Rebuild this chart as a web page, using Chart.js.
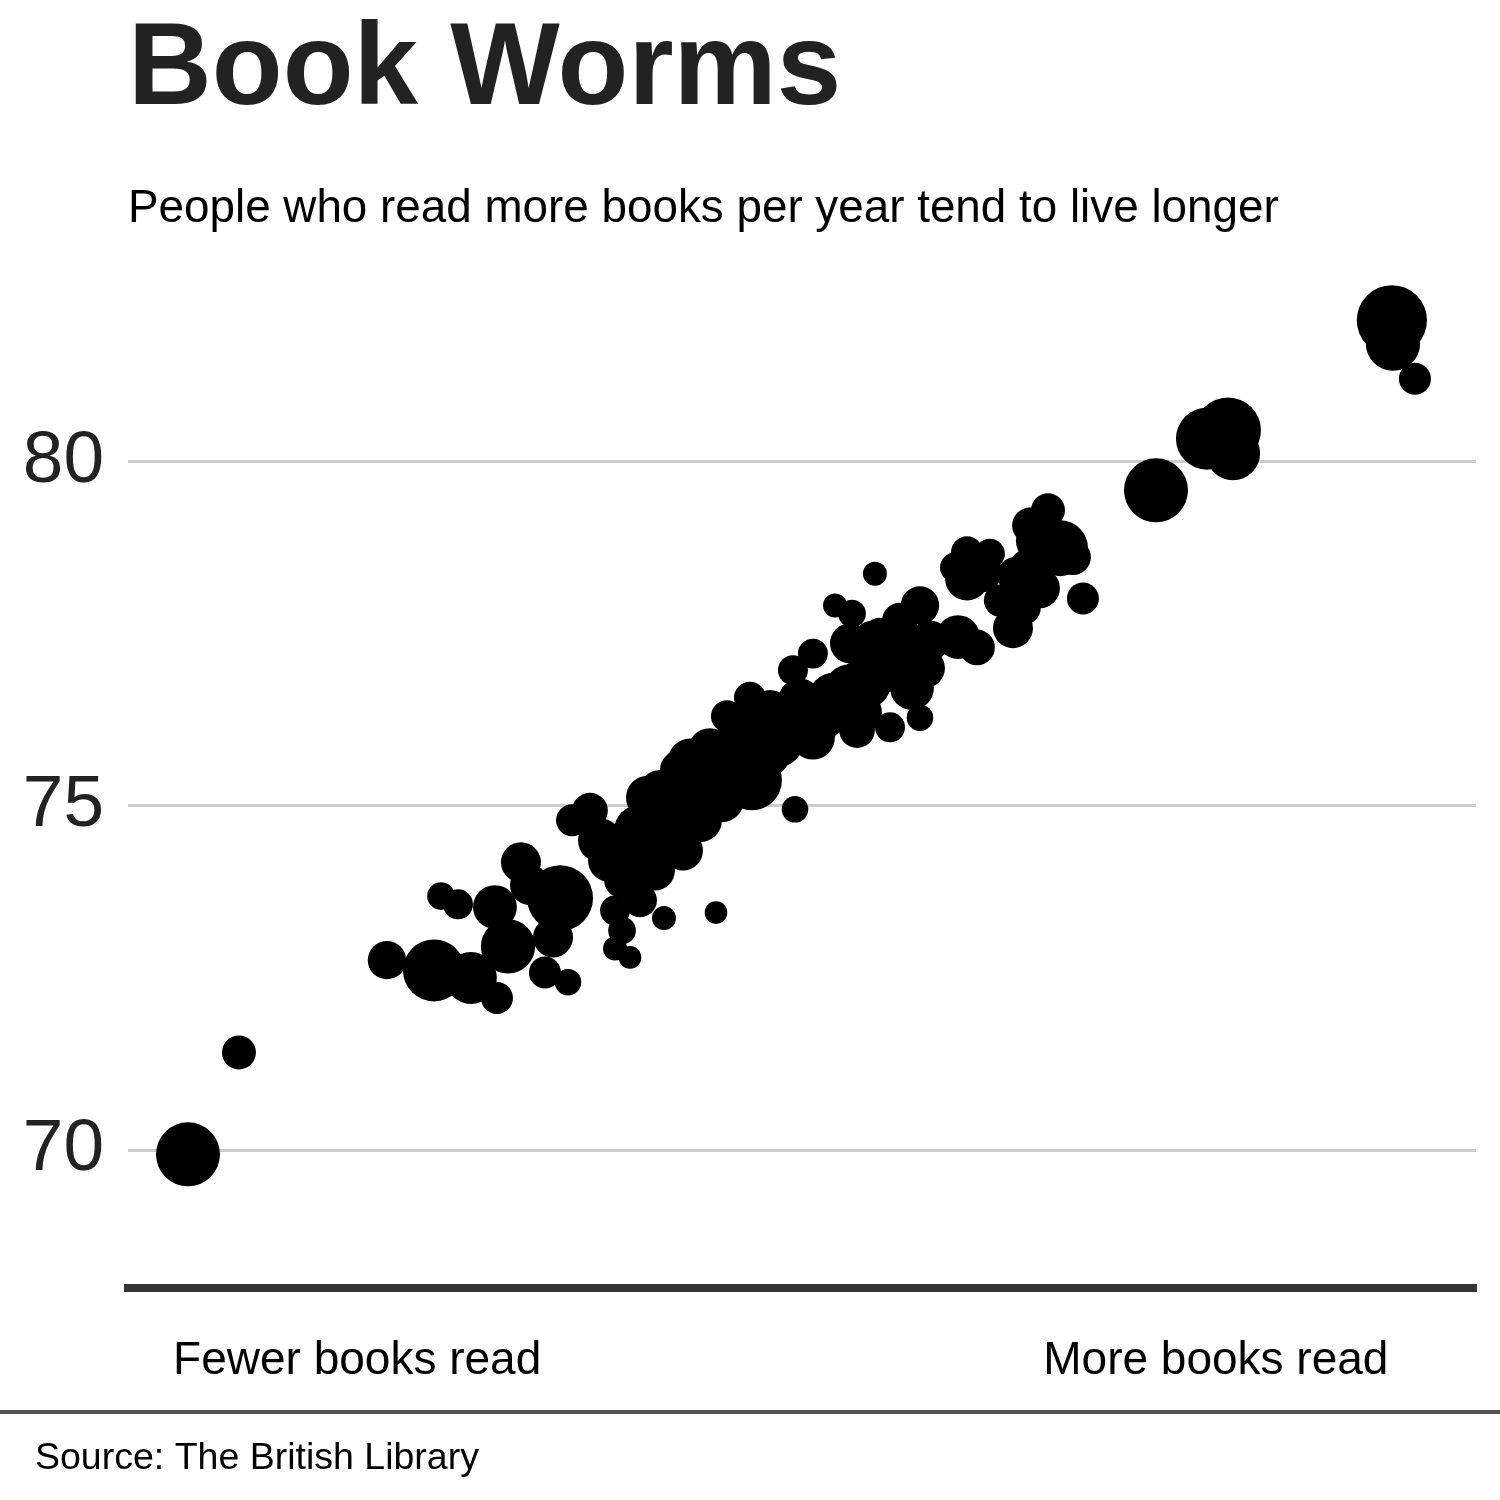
<!DOCTYPE html>
<html>
<head>
<meta charset="utf-8">
<script src="https://cdn.jsdelivr.net/npm/chart.js@4.4.1/dist/chart.umd.min.js"></script>
<style>
  html, body { margin: 0; padding: 0; background: #ffffff; }
  #wrap { width: 1500px; height: 1500px; position: relative; }
</style>
</head>
<body>
<div id="wrap"><canvas id="c"></canvas></div>
<script>
// ---- Data ----
const booksReadIndex = [
  4.45, 8.23, 19.21, 22.70, 25.44, 27.37, 23.22, 24.48, 27.22, 29.15,
  32.05, 28.19, 31.53, 30.93, 32.64, 29.82, 32.94, 34.27, 35.01, 36.65,
  36.13, 36.65, 36.13, 37.24, 39.76, 43.62, 37.98, 37.24, 49.48, 58.75,
  56.53, 54.08, 50.81, 46.29, 41.17, 38.57, 41.69, 44.43, 46.14, 49.33,
  50.81, 53.56, 55.78, 55.41, 52.45, 53.71, 58.75, 57.27, 55.26, 61.57,
  62.98, 65.65, 66.39, 67.65, 66.91, 69.14, 70.10, 68.25, 66.91, 67.65,
  65.80, 64.68, 62.24, 63.35, 61.35, 62.24, 63.94, 70.84, 93.76, 93.84,
  95.47, 76.26, 80.04, 81.60, 81.97, 35.75, 36.87, 37.98, 39.09, 40.21,
  41.32, 42.43, 43.54, 44.66, 45.77, 46.88, 47.99, 49.11, 50.22, 51.33,
  52.45, 53.56, 54.67, 55.78, 56.90, 58.01, 58.16, 54.30, 49.85, 47.62,
  45.40, 43.17, 40.95, 39.46, 38.13, 39.61, 42.43, 44.06, 59.49, 59.12,
  39.09
];
const lifeExpectancy = [
  69.94, 71.42, 72.76, 72.61, 72.50, 72.21, 73.69, 73.57, 73.53, 74.18,
  73.66, 72.96, 73.09, 72.58, 72.44, 73.85, 74.79, 74.93, 74.50, 73.92,
  73.48, 73.19, 72.93, 72.80, 73.37, 73.45, 73.63, 73.99, 74.95, 76.28,
  76.14, 76.10, 75.99, 75.37, 74.35, 75.12, 75.66, 76.30, 76.57, 76.97,
  77.21, 77.36, 77.47, 78.37, 77.91, 77.79, 77.91, 77.69, 77.40, 77.45,
  77.30, 77.58, 77.88, 78.16, 78.42, 78.74, 78.61, 79.29, 79.07, 78.85,
  78.35, 77.98, 78.30, 78.39, 78.46, 78.68, 78.66, 78.01, 82.05, 81.71,
  81.20, 79.58, 80.33, 80.45, 80.12, 74.21, 74.43, 74.64, 74.86, 74.93,
  75.08, 75.23, 75.37, 75.59, 75.73, 75.83, 75.98, 76.12, 76.27, 76.36,
  76.53, 76.68, 76.78, 76.97, 77.11, 77.18, 76.71, 76.36, 76.53, 76.39,
  76.10, 75.81, 75.52, 75.23, 74.33, 74.57, 74.79, 75.08, 77.40, 77.00,
  74.06
];
const population = [
  64, 18, 23, 60, 42, 16, 12, 14, 30, 25,
  68, 46, 25, 16, 11, 25, 16, 20, 30, 20,
  14, 12, 9, 8, 9, 8, 18, 18, 11, 11,
  14, 20, 30, 56, 25, 30, 30, 16, 16, 14,
  14, 25, 20, 9, 9, 12, 23, 20, 25, 30,
  20, 25, 20, 25, 30, 49, 20, 18, 20, 36,
  20, 16, 30, 25, 14, 16, 14, 16, 77, 46,
  16, 64, 60, 68, 46, 30, 36, 42, 39, 49,
  56, 49, 56, 77, 56, 64, 56, 49, 77, 49,
  49, 42, 42, 36, 42, 36, 30, 30, 30, 25,
  30, 30, 25, 25, 25, 39, 30, 30, 25, 25,
  25
];
const yTickValues = [70, 75, 80];
const xTickValues = [17, 80.7];
const xTickLabels = ['Fewer books read', 'More books read'];

const FONT = "'Liberation Sans', Arial, Helvetica, sans-serif";
Chart.defaults.font.family = FONT;

const points = booksReadIndex.map((x, i) => ({
  x: x,
  y: lifeExpectancy[i],
  r: 4 * Math.sqrt(population[i])
}));

const sourcePlugin = {
  id: 'sourceNote',
  afterDraw(chart) {
    const ctx = chart.ctx;
    ctx.save();
    ctx.strokeStyle = '#555555';
    ctx.lineWidth = 4;
    ctx.beginPath();
    ctx.moveTo(0, 1412);
    ctx.lineTo(chart.width, 1412);
    ctx.stroke();
    ctx.fillStyle = '#000000';
    ctx.font = '37.5px ' + FONT;
    ctx.textBaseline = 'alphabetic';
    ctx.textAlign = 'left';
    ctx.fillText('Source: The British Library', 35, 1469);
    ctx.restore();
  }
};

new Chart(document.getElementById('c'), {
  type: 'bubble',
  data: {
    datasets: [{
      data: points,
      backgroundColor: '#000000',
      borderWidth: 0,
      hoverBorderWidth: 0
    }]
  },
  options: {
    responsive: true,
    maintainAspectRatio: false,
    animation: false,
    layout: { autoPadding: false, padding: { left: 0, right: 24, top: 0, bottom: 112 } },
    plugins: {
      legend: { display: false },
      tooltip: { enabled: false },
      title: {
        display: true,
        text: 'Book Worms',
        align: 'start',
        fullSize: false,
        color: '#222222',
        font: { size: 116, weight: 'bold', lineHeight: 1 },
        padding: { top: 14, bottom: 0 }
      },
      subtitle: {
        display: true,
        text: 'People who read more books per year tend to live longer',
        align: 'start',
        fullSize: false,
        color: '#000000',
        font: { size: 45.8, lineHeight: 1 },
        padding: { top: 56, bottom: 23 }
      }
    },
    scales: {
      x: {
        type: 'linear',
        min: 0,
        max: 100,
        afterBuildTicks: s => { s.ticks = xTickValues.map(v => ({ value: v })); },
        afterFit: s => { s.height = 100; s.paddingLeft = 0; s.paddingRight = 0; },
        ticks: {
          autoSkip: false,
          maxRotation: 0,
          padding: 46,
          color: '#000000',
          font: { size: 46 },
          callback: (v, i) => xTickLabels[i]
        },
        grid: { display: false, drawTicks: false },
        border: { display: true, color: '#333333', width: 8 }
      },
      y: {
        type: 'linear',
        min: 68,
        max: 83,
        afterBuildTicks: s => { s.ticks = yTickValues.map(v => ({ value: v })); },
        afterFit: s => { s.width = 128; },
        ticks: {
          padding: 24,
          color: '#222222',
          font: { size: 73 }
        },
        grid: { color: '#cccccc', lineWidth: 3, drawTicks: false },
        border: { display: false }
      }
    }
  },
  plugins: [sourcePlugin]
});
</script>
</body>
</html>
